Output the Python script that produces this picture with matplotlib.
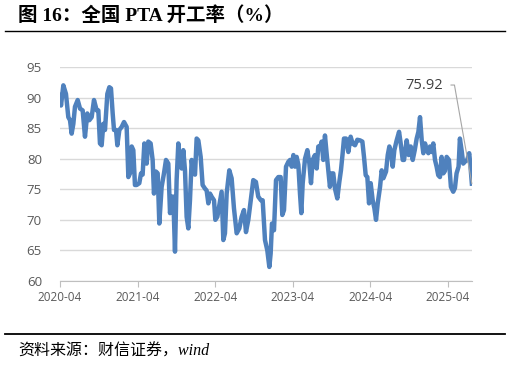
import matplotlib

matplotlib.use("Agg")
import matplotlib.pyplot as plt
from matplotlib.lines import Line2D

# PTA operating rate (%), dates as decimal years
dates = [
    2020.250, 2020.263, 2020.293, 2020.327, 2020.357, 2020.379, 2020.400, 2020.422, 2020.443, 2020.478,
    2020.508, 2020.542, 2020.572, 2020.602, 2020.628, 2020.658, 2020.688, 2020.723, 2020.744, 2020.765,
    2020.787, 2020.808, 2020.830, 2020.860, 2020.886, 2020.907, 2020.929, 2020.946, 2020.972, 2020.989,
    2021.015, 2021.045, 2021.075, 2021.109, 2021.131, 2021.152, 2021.174, 2021.195, 2021.216, 2021.238,
    2021.272, 2021.294, 2021.315, 2021.337, 2021.367, 2021.388, 2021.418, 2021.444, 2021.461, 2021.487,
    2021.509, 2021.530, 2021.560, 2021.590, 2021.616, 2021.646, 2021.668, 2021.689, 2021.710, 2021.732,
    2021.753, 2021.775, 2021.796, 2021.818, 2021.839, 2021.861, 2021.882, 2021.904, 2021.925, 2021.947,
    2021.968, 2021.990, 2022.011, 2022.033, 2022.063, 2022.088, 2022.119, 2022.140, 2022.162, 2022.183,
    2022.204, 2022.235, 2022.252, 2022.278, 2022.303, 2022.333, 2022.355, 2022.376, 2022.398, 2022.432,
    2022.462, 2022.492, 2022.527, 2022.561, 2022.591, 2022.621, 2022.647, 2022.677, 2022.741, 2022.775,
    2022.805, 2022.840, 2022.862, 2022.892, 2022.922, 2022.948, 2022.965, 2022.982, 2023.008, 2023.034,
    2023.064, 2023.094, 2023.115, 2023.137, 2023.163, 2023.193, 2023.215, 2023.236, 2023.258, 2023.279,
    2023.300, 2023.322, 2023.343, 2023.360, 2023.378, 2023.408, 2023.438, 2023.464, 2023.485, 2023.506,
    2023.536, 2023.558, 2023.579, 2023.601, 2023.622, 2023.643, 2023.665, 2023.686, 2023.708, 2023.729,
    2023.751, 2023.772, 2023.794, 2023.824, 2023.850, 2023.871, 2023.893, 2023.910, 2023.936, 2023.966,
    2023.996, 2024.021, 2024.052, 2024.082, 2024.117, 2024.147, 2024.168, 2024.190, 2024.211, 2024.233,
    2024.254, 2024.280, 2024.302, 2024.323, 2024.345, 2024.375, 2024.396, 2024.418, 2024.452, 2024.474,
    2024.495, 2024.516, 2024.538, 2024.559, 2024.589, 2024.620, 2024.641, 2024.667, 2024.684, 2024.718,
    2024.744, 2024.770, 2024.796, 2024.822, 2024.847, 2024.869, 2024.890, 2024.912, 2024.933, 2024.955,
    2024.976, 2024.998, 2025.018, 2025.040, 2025.061, 2025.083, 2025.104, 2025.125, 2025.147, 2025.168,
    2025.190, 2025.211, 2025.233, 2025.263, 2025.288, 2025.318, 2025.340, 2025.361, 2025.387, 2025.404,
    2025.426, 2025.447, 2025.468, 2025.498, 2025.524, 2025.541, 2025.558,
]
rates = [
    90.4, 88.7, 92.0, 90.6, 86.8, 86.3, 84.1, 85.7, 88.5, 89.6,
    88.2, 87.9, 83.6, 87.4, 86.3, 86.8, 89.6, 87.9, 87.9, 82.5,
    82.2, 85.7, 84.7, 90.6, 91.7, 91.5, 87.4, 84.7, 84.7, 82.2,
    84.7, 85.2, 86.0, 85.2, 77.0, 77.6, 82.0, 81.4, 75.7, 75.7,
    76.0, 77.6, 77.4, 82.5, 79.2, 82.8, 82.5, 79.8, 74.3, 77.9,
    77.6, 69.4, 75.4, 77.6, 79.8, 79.2, 71.1, 73.8, 73.8, 64.8,
    76.5, 82.5, 79.2, 78.4, 81.4, 78.1, 70.5, 68.6, 73.2, 79.8,
    77.6, 77.4, 83.3, 83.0, 80.3, 75.7, 75.1, 74.8, 72.7, 74.3,
    73.8, 73.2, 70.0, 70.5, 72.4, 74.6, 66.7, 67.8, 74.3, 78.1,
    76.8, 71.9, 67.8, 68.6, 70.5, 71.6, 68.0, 70.0, 76.5, 76.2,
    73.8, 73.2, 73.2, 66.7, 65.0, 62.3, 64.5, 69.4, 68.3, 76.5,
    77.0, 77.0, 70.8, 71.6, 78.7, 79.5, 79.8, 78.7, 80.6, 78.7,
    80.3, 79.0, 74.3, 71.1, 76.0, 80.0, 81.4, 79.2, 76.0, 79.8,
    80.6, 78.4, 82.0, 81.7, 82.8, 79.8, 83.8, 80.9, 78.1, 75.4,
    77.6, 77.6, 75.1, 73.5, 76.2, 78.1, 80.9, 83.3, 83.3, 81.1,
    83.6, 82.5, 82.2, 83.1, 83.0, 82.8, 80.3, 77.3, 77.0, 72.7,
    76.0, 73.2, 71.9, 70.0, 72.7, 75.4, 78.1, 76.8, 77.9, 80.6,
    82.0, 81.1, 78.7, 81.4, 83.0, 84.4, 82.5, 79.8, 79.8, 83.0,
    80.6, 82.0, 79.8, 81.4, 83.3, 84.4, 86.8, 83.0, 80.9, 82.5,
    81.4, 80.9, 82.0, 81.1, 82.5, 79.8, 78.7, 77.3, 77.0, 80.3,
    77.6, 78.0, 80.3, 79.8, 75.4, 74.6, 75.2, 77.6, 78.7, 83.3,
    81.4, 79.2, 79.5, 79.8, 80.9, 78.7, 75.92,
]
tick_pos = [2020.25, 2021.25, 2022.25, 2023.25, 2024.25, 2025.25]
tick_labels = ["2020-04", "2021-04", "2022-04", "2023-04", "2024-04", "2025-04"]
y_ticks = [60, 65, 70, 75, 80, 85, 90, 95]
last_label = "75.92"

title = "图 16：全国 PTA 开工率（%）"
source = "资料来源：财信证券，wind"

W, H = 511, 366
fig = plt.figure(figsize=(W / 100, H / 100), dpi=100)
ax = fig.add_axes([60 / W, 1 - 281 / H, 412 / W, 214 / H])

ax.plot(dates, rates, color="#4f81bd", lw=3.2, solid_joinstyle="round", zorder=3)

ax.set_xlim(2020.25, 2025.56)
ax.set_ylim(60, 95)
ax.set_yticks(y_ticks)
ax.set_xticks(tick_pos)
ax.set_xticklabels(tick_labels)
ax.grid(axis="y", color="#d9d9d9", lw=1.0)
ax.set_axisbelow(True)
for side in ("top", "right", "left"):
    ax.spines[side].set_visible(False)
ax.spines["bottom"].set_color("#bfbfbf")
ax.tick_params(axis="y", length=0, pad=13, labelsize=9.5, labelcolor="#595959")
ax.tick_params(axis="x", length=4, direction="out", color="#bfbfbf", pad=3,
               labelsize=8.5, labelcolor="#595959")
for lab in ax.get_xticklabels() + ax.get_yticklabels():
    lab.set_family("Open Sans")

# data label for the last point with a leader line
ax.annotate(last_label, xy=(dates[-1], rates[-1]), xycoords="data",
            xytext=(2025.18, 92.05), textcoords="data",
            ha="right", va="center", fontsize=10.5, color="#404040", family="Open Sans",
            arrowprops=dict(arrowstyle="-", color="#a6a6a6", lw=0.8,
                            connectionstyle="angle,angleA=0,angleB=100,rad=0",
                            shrinkA=4, shrinkB=0))

fig.text(18 / W, 1 - 16 / H, title, fontsize=14, fontweight="bold",
         family=["Liberation Serif", "Noto Sans CJK SC"], ha="left", va="center")
fig.add_artist(Line2D([5 / W, 505 / W], [1 - 31 / H] * 2, color="black", lw=1.0))
fig.add_artist(Line2D([5 / W, 505 / W], [1 - 334 / H] * 2, color="black", lw=1.3))
fig.text(18 / W, 1 - 352 / H, source, fontsize=11.5, style="italic",
         family=["Liberation Serif", "Noto Sans CJK SC"], ha="left", va="center")

fig.savefig("out.png", dpi=100)
